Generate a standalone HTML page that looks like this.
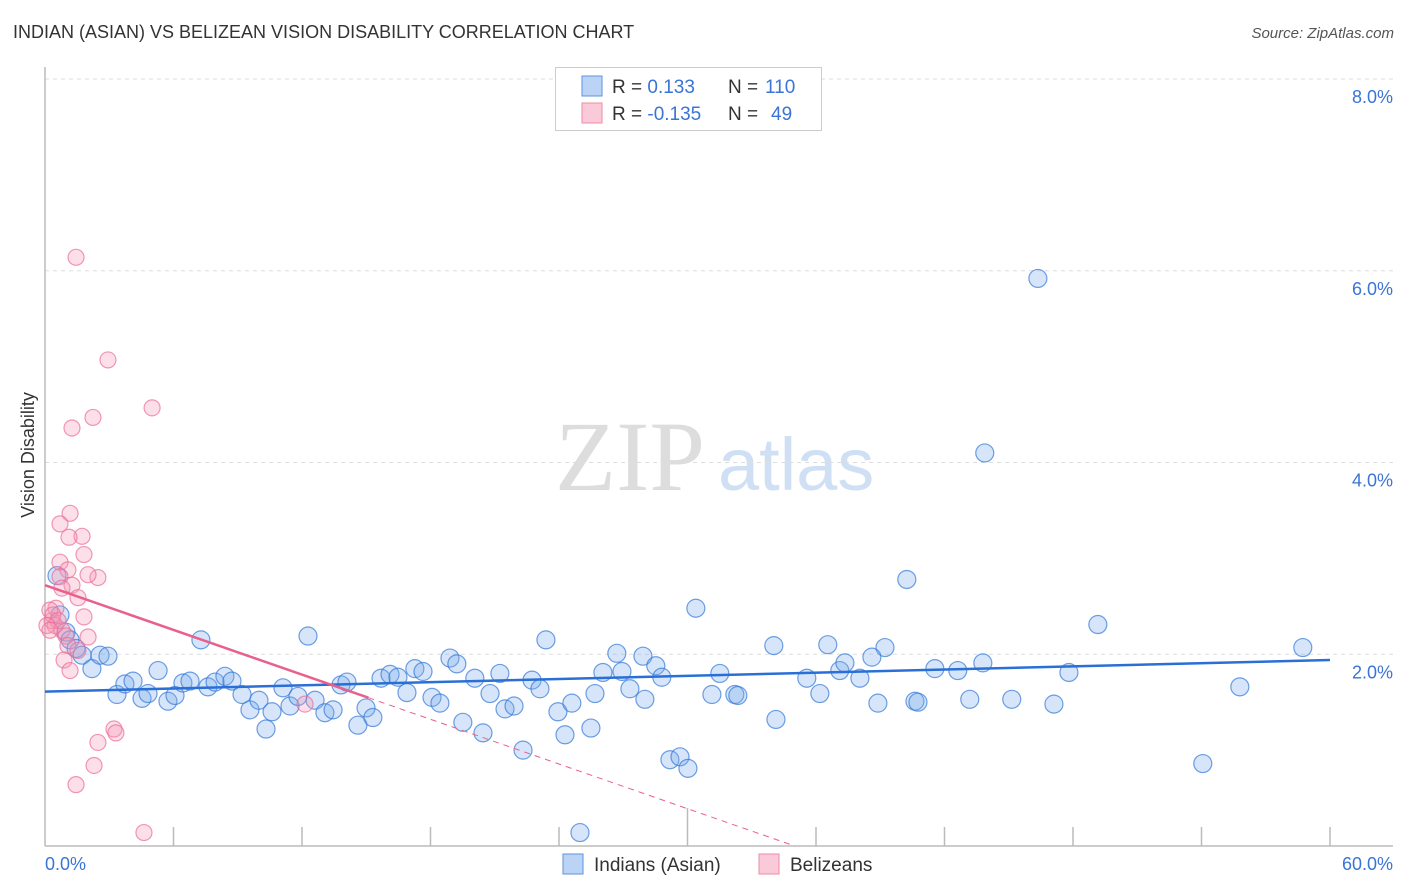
<!DOCTYPE html>
<html><head><meta charset="utf-8"><style>
body{margin:0;background:#fff;font-family:"Liberation Sans",sans-serif;}
#wrap{position:relative;width:1406px;height:892px;overflow:hidden;}
.t{position:absolute;white-space:nowrap;}
</style></head><body><div id="wrap">
<div class="t" style="left:13px;top:22px;font-size:18px;color:#333;">INDIAN (ASIAN) VS BELIZEAN VISION DISABILITY CORRELATION CHART</div>
<div class="t" style="right:12px;top:25px;font-size:15px;color:#555;font-style:italic;">Source: ZipAtlas.com</div>
<svg id="svg" width="1406" height="892" style="position:absolute;left:0;top:0"></svg>
</div>
<script>
const xTicks=[0,60];
const yTicks=[2,4,6,8];
const blueX=[0.56,0.70,0.98,1.17,1.45,1.73,2.19,2.57,2.94,3.36,3.73,4.11,4.53,4.81,5.28,5.74,6.07,6.44,6.77,7.28,7.61,7.94,8.40,8.73,9.20,9.57,9.99,10.32,10.60,11.11,11.44,11.81,12.28,12.61,13.07,13.45,13.82,14.10,14.61,14.99,15.31,15.69,16.11,16.48,16.90,17.27,17.65,18.07,18.44,18.91,19.23,19.51,20.07,20.45,20.78,21.24,21.48,21.90,22.32,22.74,23.11,23.39,23.95,24.28,24.60,24.98,25.49,25.68,26.05,26.70,26.94,27.31,27.92,28.01,28.52,28.80,29.18,29.65,30.02,30.39,31.14,31.51,32.21,32.35,34.03,34.13,35.57,36.18,36.55,37.11,37.35,38.05,38.89,39.22,38.61,40.24,40.62,40.76,41.55,42.62,43.18,43.79,43.88,45.14,46.36,47.11,47.81,49.16,54.06,55.79,58.73];
const blueY=[2.82,2.41,2.23,2.15,2.06,1.99,1.85,1.99,1.98,1.58,1.69,1.72,1.54,1.59,1.83,1.51,1.57,1.70,1.72,2.15,1.66,1.71,1.77,1.72,1.58,1.42,1.52,1.22,1.40,1.65,1.46,1.56,2.19,1.52,1.39,1.42,1.68,1.71,1.26,1.44,1.34,1.75,1.79,1.76,1.60,1.85,1.82,1.55,1.49,1.96,1.90,1.29,1.75,1.18,1.59,1.80,1.43,1.46,1.00,1.73,1.64,2.15,1.40,1.16,1.49,0.14,1.23,1.59,1.81,2.01,1.82,1.64,1.98,1.53,1.88,1.76,0.90,0.93,0.81,2.48,1.58,1.80,1.58,1.57,2.09,1.32,1.75,1.59,2.10,1.83,1.91,1.75,1.49,2.07,1.97,2.78,1.51,1.50,1.85,1.83,1.53,1.91,4.10,1.53,5.92,1.48,1.81,2.31,0.86,1.66,2.07];
const pinkX=[1.45,2.94,5.00,2.24,1.26,1.17,0.70,1.73,1.12,1.82,0.70,1.07,2.47,2.01,0.70,1.26,0.79,1.54,0.51,1.82,0.33,0.47,0.79,0.98,2.01,1.07,1.54,0.89,1.17,3.22,3.31,2.47,2.29,1.45,4.62,12.14,0.23,0.37,0.61,0.09,0.23];
const pinkY=[6.14,5.07,4.57,4.47,4.36,3.47,3.36,3.23,3.22,3.04,2.96,2.88,2.80,2.83,2.81,2.72,2.69,2.59,2.48,2.39,2.35,2.30,2.25,2.19,2.18,2.09,2.04,1.94,1.83,1.22,1.18,1.08,0.84,0.64,0.14,1.48,2.46,2.41,2.35,2.30,2.25];
const blueTrend=[1.61,0.0055];
const pinkTrend=[2.72,-0.0777];
const pinkSolidEnd=15.1;
const X0=45,X1=1330,Y0=846,Y8=79;
const sx=v=>X0+(v-xTicks[0])/(xTicks[1]-xTicks[0])*(X1-X0);
const sy=v=>Y0-v/8*(Y0-Y8);
const svg=document.getElementById('svg');
const NS='http://www.w3.org/2000/svg';
function mk(tag,attrs,parent){const e=document.createElementNS(NS,tag);for(const k in attrs)e.setAttribute(k,attrs[k]);(parent||svg).appendChild(e);return e;}
// watermark
let w1=mk('text',{x:555,y:490,'font-size':100,'font-family':'Liberation Serif,serif',fill:'#ddd'});w1.textContent='ZIP';


let w2=mk('text',{x:718,y:490,'font-size':74,'font-family':'Liberation Sans,sans-serif',fill:'#cfe0f5'});w2.textContent='atlas';


// gridlines and y labels
yTicks.forEach(v=>{
 const g=mk('line',{x1:X0,x2:1393,y1:sy(v),y2:sy(v),stroke:'#ddd','stroke-dasharray':'4,4'});
 
 
 const t=mk('text',{x:1393,y:sy(v)+24,'text-anchor':'end','font-size':18,fill:'#3a74d6','font-family':'Liberation Sans,sans-serif'});
 t.textContent=v.toFixed(1)+'%';
 
 
});
// axes
let ax=mk('line',{x1:X0,x2:1393,y1:Y0,y2:Y0,stroke:'#bbb','stroke-width':1.5});


let ay=mk('line',{x1:X0,x2:X0,y1:67,y2:Y0,stroke:'#bbb','stroke-width':1.5});


for(let i=1;i<=10;i++){
 const x=X0+i*(X1-X0)/10;
 const tk=mk('line',{x1:x,x2:x,y1:i==5?808:827,y2:Y0,stroke:'#bbb','stroke-width':1.5});
 
 
}
xTicks.forEach((v,i)=>{
 const t=mk('text',{x:i==0?45:1393,y:870,'text-anchor':i==0?'start':'end','font-size':18,fill:'#3a74d6','font-family':'Liberation Sans,sans-serif'});
 t.textContent=v.toFixed(1)+'%';
 
 
});
let yt=mk('text',{x:0,y:0,transform:'translate(34,455) rotate(-90)','text-anchor':'middle','font-size':18,fill:'#333','font-family':'Liberation Sans,sans-serif'});
yt.textContent='Vision Disability';


// points
blueX.forEach((x,i)=>{
 const c=mk('circle',{cx:sx(x),cy:sy(blueY[i]),r:9,fill:'rgba(120,170,235,0.3)',stroke:'rgba(50,120,215,0.7)','stroke-width':1.2});
 
 
});
pinkX.forEach((x,i)=>{
 const c=mk('circle',{cx:sx(x),cy:sy(pinkY[i]),r:8,fill:'rgba(245,150,180,0.3)',stroke:'rgba(235,110,150,0.7)','stroke-width':1.2});
 
 
});
// trends
const bt=x=>blueTrend[0]+blueTrend[1]*x, pt=x=>pinkTrend[0]+pinkTrend[1]*x;
let bl=mk('line',{x1:sx(0),y1:sy(bt(0)),x2:sx(60),y2:sy(bt(60)),stroke:'#2a6fd6','stroke-width':2.5});


let pl=mk('line',{x1:sx(0),y1:sy(pt(0)),x2:sx(pinkSolidEnd),y2:sy(pt(pinkSolidEnd)),stroke:'#e8608c','stroke-width':2.5});


const xz=-pinkTrend[0]/pinkTrend[1];
let pd=mk('line',{x1:sx(pinkSolidEnd),y1:sy(pt(pinkSolidEnd)),x2:sx(xz),y2:sy(0),stroke:'#e8608c','stroke-width':1,'stroke-dasharray':'6,5'});


// legend box
let lb=mk('rect',{x:555.5,y:67.5,width:266,height:63,fill:'#fff',stroke:'#ccc'});


[[0,'rgba(120,170,235,0.5)','#5b93e0',' 0.133','110'],[1,'rgba(245,150,180,0.5)','#ef8aaa','-0.135','49']].forEach(([i,f,s,r,n])=>{
 const y=86+i*27;
 const sw=mk('rect',{x:582,y:y-10,width:20,height:20,fill:f,stroke:s});
 
 
 const t=mk('text',{x:612,y:y+7,'font-size':19,fill:'#333','font-family':'Liberation Sans,sans-serif'});
 t.innerHTML='R = <tspan fill="#3a74d6">'+r+'</tspan><tspan x="728">N = </tspan><tspan fill="#3a74d6" x="'+(n.length==3?765:771)+'">'+n+'</tspan>';
 
 
});
// bottom legend
[[563,'rgba(120,170,235,0.5)','#5b93e0','Indians (Asian)'],[759,'rgba(245,150,180,0.5)','#ef8aaa','Belizeans']].forEach(([x,f,s,l])=>{
 const sw=mk('rect',{x:x,y:854,width:20,height:20,fill:f,stroke:s});
 
 
 const t=mk('text',{x:x+31,y:871,'font-size':19,fill:'#333','font-family':'Liberation Sans,sans-serif'});
 t.textContent=l;
 
 
});
</script></body></html>
